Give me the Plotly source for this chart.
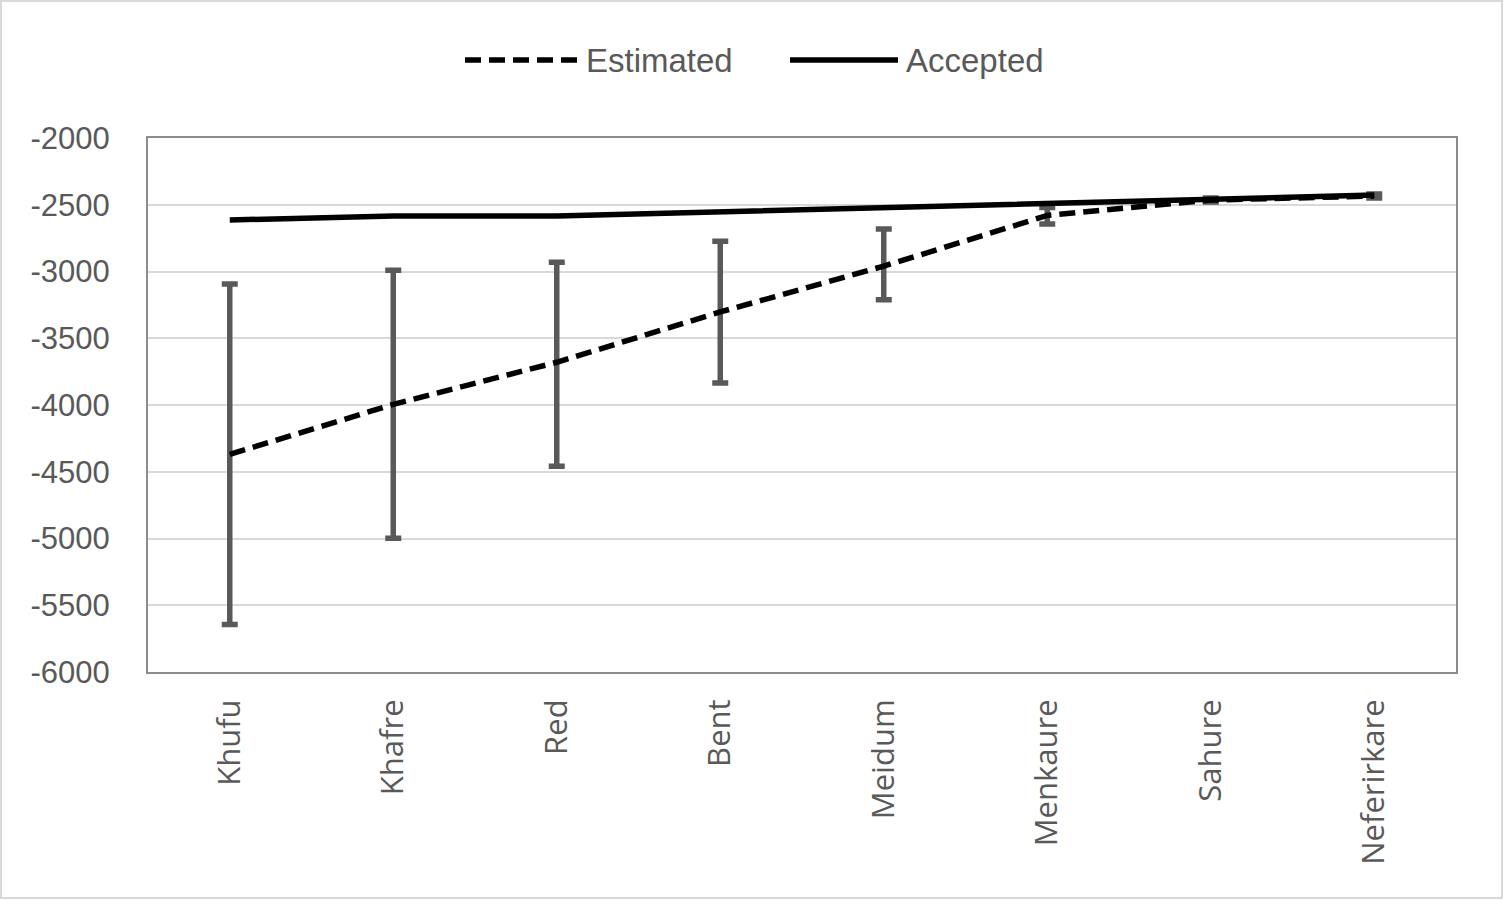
import plotly.graph_objects as go

categories = ["Khufu", "Khafre", "Red", "Bent", "Meidum", "Menkaure", "Sahure", "Neferirkare"]
estimated = [-4370, -3995, -3680, -3303, -2960, -2580, -2465, -2435]
accepted = [-2614, -2585, -2585, -2555, -2525, -2487, -2462, -2427]
err_plus = [1277, 1005, 750, 530, 278, 60, 15, 15]
err_minus = [1275, 1003, 778, 532, 252, 65, 15, 15]

y_ticks = [-2000, -2500, -3000, -3500, -4000, -4500, -5000, -5500, -6000]
y_labels = [str(v) for v in y_ticks]

GRAY = "#595959"
fig = go.Figure()

# error bars (drawn beneath the line)
fig.add_trace(go.Scatter(
    x=categories, y=estimated, mode="markers",
    marker=dict(size=0.1, color="rgba(0,0,0,0)"),
    error_y=dict(type="data", symmetric=False, array=err_plus, arrayminus=err_minus,
                 color=GRAY, thickness=5.5, width=8),
    showlegend=False, hoverinfo="skip"))

DASH = "16px,8px"
fig.add_trace(go.Scatter(
    x=categories, y=estimated, mode="lines", name="Estimated",
    line=dict(color="black", width=5.5, dash=DASH), showlegend=False))
fig.add_trace(go.Scatter(
    x=categories, y=accepted, mode="lines", name="Accepted",
    line=dict(color="black", width=5.5), showlegend=False))

L, R, T, B = 148, 48, 138, 228
W, H = 1504, 900
pw, ph = W - L - R, H - T - B


def px_x(p):
    return (p - L) / pw


def px_y(p):
    return (T + ph - p) / ph


LEG_FONT = dict(family="Liberation Sans, Arial, sans-serif", size=33, color=GRAY)
shapes = [
    dict(type="rect", xref="paper", yref="paper",
         x0=px_x(1), x1=px_x(W - 2), y0=px_y(H - 2), y1=px_y(1),
         line=dict(color="#d9d9d9", width=2), fillcolor="rgba(0,0,0,0)", layer="below"),
    dict(type="line", xref="paper", yref="paper",
         x0=px_x(465), x1=px_x(580), y0=px_y(60), y1=px_y(60),
         line=dict(color="black", width=5.5, dash=DASH)),
    dict(type="line", xref="paper", yref="paper",
         x0=px_x(790), x1=px_x(898), y0=px_y(60), y1=px_y(60),
         line=dict(color="black", width=5.5)),
]
annotations = [
    dict(text="Estimated", xref="paper", yref="paper", x=px_x(584), y=px_y(60),
         xanchor="left", yanchor="middle", showarrow=False, font=LEG_FONT),
    dict(text="Accepted", xref="paper", yref="paper", x=px_x(904), y=px_y(60),
         xanchor="left", yanchor="middle", showarrow=False, font=LEG_FONT),
]

fig.update_layout(
    width=W, height=H,
    margin=dict(l=L, r=R, t=T, b=B, autoexpand=False),
    paper_bgcolor="white", plot_bgcolor="white",
    font=dict(family="Liberation Sans, Arial, sans-serif", size=28, color=GRAY),
    showlegend=False,
    xaxis=dict(
        type="category", range=[-0.5, 7.5], automargin=False,
        tickangle=-90, tickfont=dict(family="Open Sans, sans-serif", size=31, color=GRAY),
        showline=True, linecolor="#8c8c8c", linewidth=2, mirror=True,
        showgrid=False, ticks="", ticklabelstandoff=13),
    yaxis=dict(
        range=[-6000, -2000], tickvals=y_ticks, ticktext=y_labels, automargin=False,
        tickfont=dict(family="Liberation Sans, Arial, sans-serif", size=31, color=GRAY),
        showline=True, linecolor="#8c8c8c", linewidth=2, mirror=True,
        showgrid=True, gridcolor="#d9d9d9", gridwidth=2, zeroline=False,
        ticks="", ticklabelstandoff=30),
    shapes=shapes,
    annotations=annotations,
)

fig.write_html("out.html", config={"displayModeBar": False},
               post_script="document.body.style.margin='0px';document.body.style.overflow='hidden';")
